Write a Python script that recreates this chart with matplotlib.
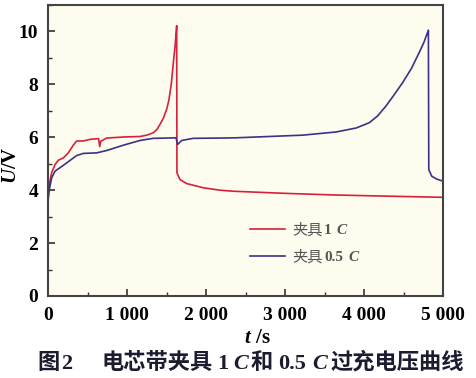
import matplotlib
matplotlib.use("Agg")
import matplotlib.pyplot as plt
from matplotlib.ticker import MultipleLocator, FixedLocator
from matplotlib.transforms import IdentityTransform

plt.rcParams['font.family'] = ['Liberation Serif', 'Noto Sans CJK SC']
plt.rcParams['mathtext.fontset'] = 'custom'
plt.rcParams['mathtext.rm'] = 'Liberation Serif:bold'
plt.rcParams['mathtext.it'] = 'Liberation Serif:italic:bold'
plt.rcParams['mathtext.bf'] = 'Liberation Serif:bold'

# 1 C fixture series
t_1c = [0, 15, 47, 89, 130, 194, 257, 320, 363, 447, 532, 640, 655, 668, 700, 743,
        953, 1165, 1250, 1333, 1380, 1418, 1460, 1502, 1530, 1560, 1586, 1610, 1629,
        1632, 1671, 1756, 1966, 2177, 2345, 3000, 3611, 4200, 5000]
v_1c = [3.7, 4.2, 4.67, 4.97, 5.13, 5.22, 5.41, 5.7, 5.86, 5.86, 5.92, 5.95, 5.65, 5.85,
        5.9, 5.97, 6.01, 6.03, 6.08, 6.17, 6.3, 6.49, 6.72, 7.06, 7.4, 8.0, 8.8, 9.5,
        10.22, 4.66, 4.40, 4.25, 4.09, 4.0, 3.96, 3.88, 3.82, 3.78, 3.73]

# 0.5 C fixture series
t_05c = [0, 15, 47, 89, 152, 236, 363, 447, 616, 743, 953, 1165, 1333, 1500, 1620,
         1642, 1692, 1839, 2177, 2380, 3224, 3646, 3900, 4067, 4170, 4278, 4380, 4490,
         4600, 4700, 4760, 4815, 4820, 4857, 4920, 5000]
v_05c = [3.58, 4.0, 4.47, 4.72, 4.85, 5.03, 5.31, 5.39, 5.41, 5.5, 5.70, 5.88, 5.96,
         5.97, 5.98, 5.73, 5.88, 5.96, 5.97, 5.98, 6.08, 6.2, 6.35, 6.55, 6.8, 7.18,
         7.6, 8.07, 8.6, 9.21, 9.6, 10.05, 4.78, 4.53, 4.42, 4.34]

xticks = [0, 1000, 2000, 3000, 4000, 5000]
xticklabels = ['0', '1 000', '2 000', '3 000', '4 000', '5 000']
yticks = [0, 2, 4, 6, 8, 10]
legend_cjk = ['夹具', '夹具']
legend_num = ['1', '0.5']

CJK = dict(family='Noto Sans CJK SC')
SERB = dict(family='Liberation Serif', fontweight='bold')
SERBI = dict(family='Liberation Serif', fontweight='bold', style='italic')

fig = plt.figure(figsize=(4.76, 3.78), dpi=100)
ax = fig.add_axes([48/476, 1 - 296/378, (443-48)/476, (296-5)/378])
ax.set_facecolor('#FEFCEE')

ax.plot(t_1c, v_1c, color='#D8203A', lw=1.2, label=legend_cjk[0])
ax.plot(t_05c, v_05c, color='#3F2F86', lw=1.2, label=legend_cjk[1])

ax.set_xlim(0, 5000)
ax.set_ylim(0, 11)
ax.xaxis.set_major_locator(FixedLocator(xticks))
ax.set_xticklabels(xticklabels)
ax.yaxis.set_major_locator(FixedLocator(yticks))
ax.xaxis.set_minor_locator(MultipleLocator(500))
ax.yaxis.set_minor_locator(MultipleLocator(1))
ax.tick_params(which='both', direction='in', top=False, right=False, colors='#333333')
ax.tick_params(which='major', length=5, width=1.2, labelsize=14, labelcolor='black')
ax.tick_params(axis='x', which='major', pad=8)
ax.tick_params(axis='y', which='major', pad=7)
ax.tick_params(which='minor', length=3, width=1.0)
for lab in ax.get_xticklabels() + ax.get_yticklabels():
    lab.set_fontweight('bold')
for s in ax.spines.values():
    s.set_color('#444444')
    s.set_linewidth(1.5)

ax.set_xlabel(r'$\mathit{t}\ \mathbf{/s}$', fontsize=15)
ax.xaxis.set_label_coords(0.53, -0.112)
ax.set_ylabel(r'$\mathit{U}\mathbf{/V}$', fontsize=15)
ax.yaxis.set_label_coords(-0.068, 0.45)

leg = ax.legend(frameon=False, loc='upper left', bbox_to_anchor=(0.511, 0.257),
                borderpad=0, borderaxespad=0, prop=dict(family='Noto Sans CJK SC', size=11),
                handlelength=2.3, handletextpad=0.5, labelspacing=0.65)
for txt in leg.get_texts():
    txt.set_color('#555555')


def rich(x, y, pieces, renderer):
    """Place text pieces on a common baseline, in display (pixel) coordinates."""
    for s, props, gap in pieces:
        t = fig.text(x, y, s, transform=IdentityTransform(), ha='left', va='baseline', **props)
        x = t.get_window_extent(renderer).x1 + gap
    return x


fig.canvas.draw()
r = fig.canvas.get_renderer()

# append bold numbers and italic C to the legend labels
for lt, num in zip(leg.get_texts(), legend_num):
    bx, by = lt.get_transform().transform(lt.get_position())
    ext = lt.get_window_extent(r)
    rich(ext.x1 + 1, by, [(num, dict(SERB, size=11, color='#555555'), 5),
                          ('C', dict(SERBI, size=11, color='#555555'), 0)], r)

# caption
cap_col = '#1C1C30'
fs = 16
H = 378
base_y = H - 369
rich(37, base_y, [('图', dict(CJK, size=fs, fontweight='bold', color=cap_col), 2),
                  ('2', dict(SERB, size=fs, color=cap_col), 0)], r)
rich(102, base_y, [
    ('电芯带夹具', dict(CJK, size=fs, fontweight='bold', color=cap_col), 4),
    ('1', dict(SERB, size=fs, color=cap_col), 5),
    ('C', dict(SERBI, size=fs, color=cap_col), 2),
    ('和', dict(CJK, size=fs, fontweight='bold', color=cap_col), 6),
    ('0.5', dict(SERB, size=fs, color=cap_col), 6),
    ('C', dict(SERBI, size=fs, color=cap_col), 3),
    ('过充电压曲线', dict(CJK, size=fs, fontweight='bold', color=cap_col), 0),
], r)

fig.savefig('out.png', dpi=100)
